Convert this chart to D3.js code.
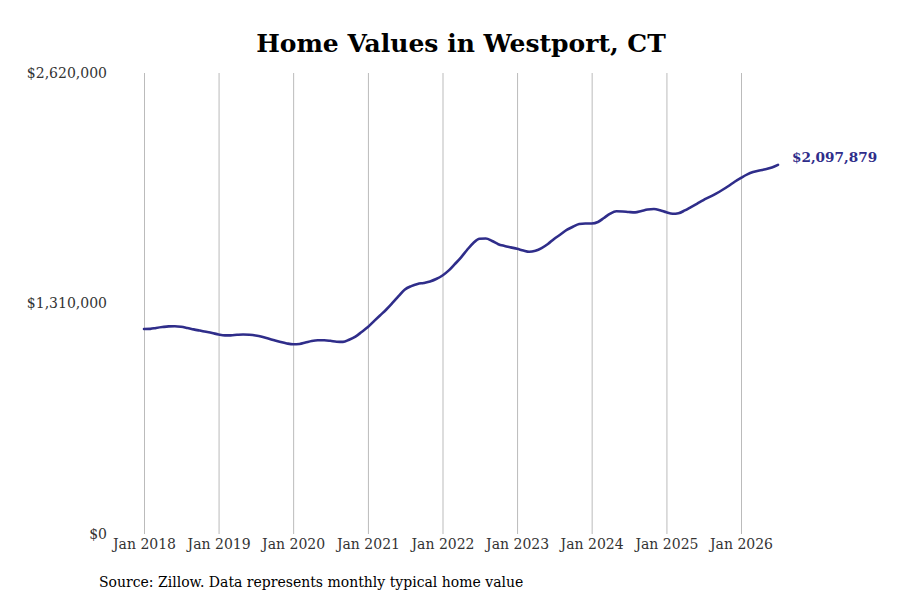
<!DOCTYPE html>
<html><head><meta charset="utf-8">
<script src="https://cdn.jsdelivr.net/npm/d3@7"></script>
<style>body{margin:0;background:#fff}svg{display:block}</style>
</head><body>
<svg id="c" width="900" height="600"></svg>
<script>
const startYear = 2018, startMonth = 0;
const values = [
1165000,1166000,1171000,1176000,1180000,1181000,1178000,1171000,1163000,1156000,1149000,1142000,
1134000,1129000,1129000,1132000,1134000,1132000,1128000,1121000,1111000,1101000,1091000,1083000,
1078000,1080000,1088000,1097000,1101000,1101000,1098000,1093000,1092000,1104000,1122000,1148000,
1176000,1211000,1242000,1276000,1313000,1353000,1390000,1409000,1421000,1427000,1435000,1449000,
1469000,1498000,1532000,1571000,1614000,1654000,1678000,1679000,1665000,1647000,1637000,1629000,
1621000,1611000,1604000,1610000,1625000,1648000,1677000,1702000,1728000,1746000,1762000,1765000,
1765000,1773000,1796000,1821000,1834000,1833000,1830000,1828000,1836000,1844000,1847000,1840000,
1828000,1820000,1823000,1839000,1858000,1878000,1898000,1916000,1935000,1955000,1978000,2002000,
2024000,2044000,2057000,2066000,2073000,2083000,2097879];
const tickYears = [2018,2019,2020,2021,2022,2023,2024,2025,2026];
const yTicks = [0,1310000,2620000];
const title = "Home Values in Westport, CT";
const source = "Source: Zillow. Data represents monthly typical home value";

const data = values.map((v,i)=>({date:new Date(startYear, startMonth+i, 1), value:v}));
const svg = d3.select("#c");
const font = "'DejaVu Serif', serif";
const color = "#2f2d8a";

const x = d3.scaleTime().domain([new Date(2018,0,1), new Date(2026,0,1)]).range([144,741]);
const y = d3.scaleLinear().domain([0,2620000]).range([534,73]);

// vertical grid
const xAxis = d3.axisBottom(x).tickValues(tickYears.map(yr=>new Date(yr,0,1)))
  .tickFormat(d3.timeFormat("Jan %Y")).tickSize(-461).tickPadding(5);
const gx = svg.append("g").attr("transform","translate(0,534)").call(xAxis);
gx.select(".domain").remove();
gx.selectAll(".tick line").attr("stroke","#bbbbbb").attr("stroke-width",1);
gx.selectAll(".tick text").attr("font-family",font).attr("font-size",14).attr("fill","#333");

const yAxis = d3.axisLeft(y).tickValues(yTicks).tickFormat(d=>"$"+d3.format(",")(d)).tickSize(0).tickPadding(0);
const gy = svg.append("g").attr("transform","translate(107,0)").call(yAxis);
gy.select(".domain").remove();
gy.selectAll(".tick text").attr("font-family",font).attr("font-size",14).attr("fill","#333");

const line = d3.line().x(d=>x(d.date)).y(d=>y(d.value)).curve(d3.curveMonotoneX);
svg.append("path").datum(data).attr("d",line).attr("fill","none")
  .attr("stroke",color).attr("stroke-width",2.6).attr("stroke-linejoin","round").attr("stroke-linecap","round");

const last = data[data.length-1];
svg.append("text").attr("x",x(last.date)+14).attr("y",y(last.value)-6)
  .attr("dominant-baseline","middle")
  .attr("font-family",font).attr("font-weight","bold").attr("font-size",13.6).attr("fill",color)
  .text("$"+d3.format(",")(last.value));

svg.append("text").attr("x",461).attr("y",52).attr("text-anchor","middle")
  .attr("font-family",font).attr("font-weight","bold").attr("font-size",25).attr("fill","#000")
  .text(title);

svg.append("text").attr("x",99).attr("y",587)
  .attr("font-family",font).attr("font-size",14).attr("fill","#000").text(source);
</script>
</body></html>
